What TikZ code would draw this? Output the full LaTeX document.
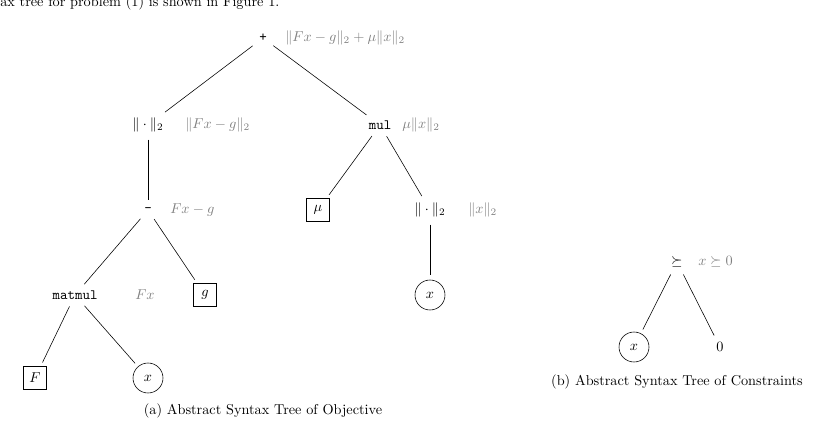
\documentclass[tikz,border=0pt]{standalone}
\usepackage{amsmath,amssymb}
\usetikzlibrary{positioning}

\tikzset{
  op/.style={inner sep=2pt},
  leafbox/.style={draw,inner sep=3pt,minimum size=16pt},
  leafcirc/.style={draw,circle,inner sep=1pt,minimum size=21pt},
  expr/.style={text=gray,anchor=west,inner sep=0pt},
  tree/.style={shorten >=3pt,shorten <=3pt}
}
\newcommand{\tnorm}{\ensuremath{\|\cdot\|_2}}

\begin{document}
\begin{tikzpicture}[x=0.7pt,y=-0.7pt]
  \useasboundingbox (0,0) rectangle (816,440);
  \node[anchor=west,inner sep=0pt] (top) at (0,3) {ax tree for problem (1) is shown in Figure 1.};

  % objective
  \node[op] (plus) at (263,38) {\texttt{+}};
  \node[expr] at (285,38) {$\|Fx-g\|_2+\mu\|x\|_2$};
  \node[op] (n1) at (148,125) {\tnorm};
  \node[expr] at (185,125) {$\|Fx-g\|_2$};
  \node[op] (mul) at (380,125) {\texttt{mul}};
  \node[expr] at (402,125) {$\mu\|x\|_2$};
  \node[op] (minus) at (148,210) {\texttt{-}};
  \node[expr] at (170,210) {$Fx-g$};
  \node[leafbox] (mu) at (318,210) {$\mu$};
  \node[op] (n2) at (430,210) {\tnorm};
  \node[expr] at (468,210) {$\|x\|_2$};
  \node[op] (matmul) at (75,295) {\texttt{matmul}};
  \node[expr] at (135,295) {$Fx$};
  \node[leafbox] (g) at (205,295) {$g$};
  \node[leafcirc] (x1) at (430,295) {$x$};
  \node[leafbox] (F) at (35,378) {$F$};
  \node[leafcirc] (x2) at (148,378) {$x$};
  \node (capa) at (263,411) {(a) Abstract Syntax Tree of Objective};

  \draw[tree] (plus) -- (n1);
  \draw[tree] (plus) -- (mul);
  \draw[tree] (n1) -- (minus);
  \draw[tree] (minus) -- (matmul);
  \draw[tree] (minus) -- (g);
  \draw[tree] (mul) -- (mu);
  \draw[tree] (mul) -- (n2);
  \draw[tree] (n2) -- (x1);
  \draw[tree] (matmul) -- (F);
  \draw[tree] (matmul) -- (x2);

  % constraints
  \node[op] (succ) at (677,262) {$\succeq$};
  \node[expr] at (698,262) {$x\succeq 0$};
  \node[leafcirc] (x3) at (634,347) {$x$};
  \node[op] (zero) at (720,347) {$0$};
  \node (capb) at (677,382) {(b) Abstract Syntax Tree of Constraints};

  \draw[tree] (succ) -- (x3);
  \draw[tree] (succ) -- (zero);
\end{tikzpicture}
\end{document}
